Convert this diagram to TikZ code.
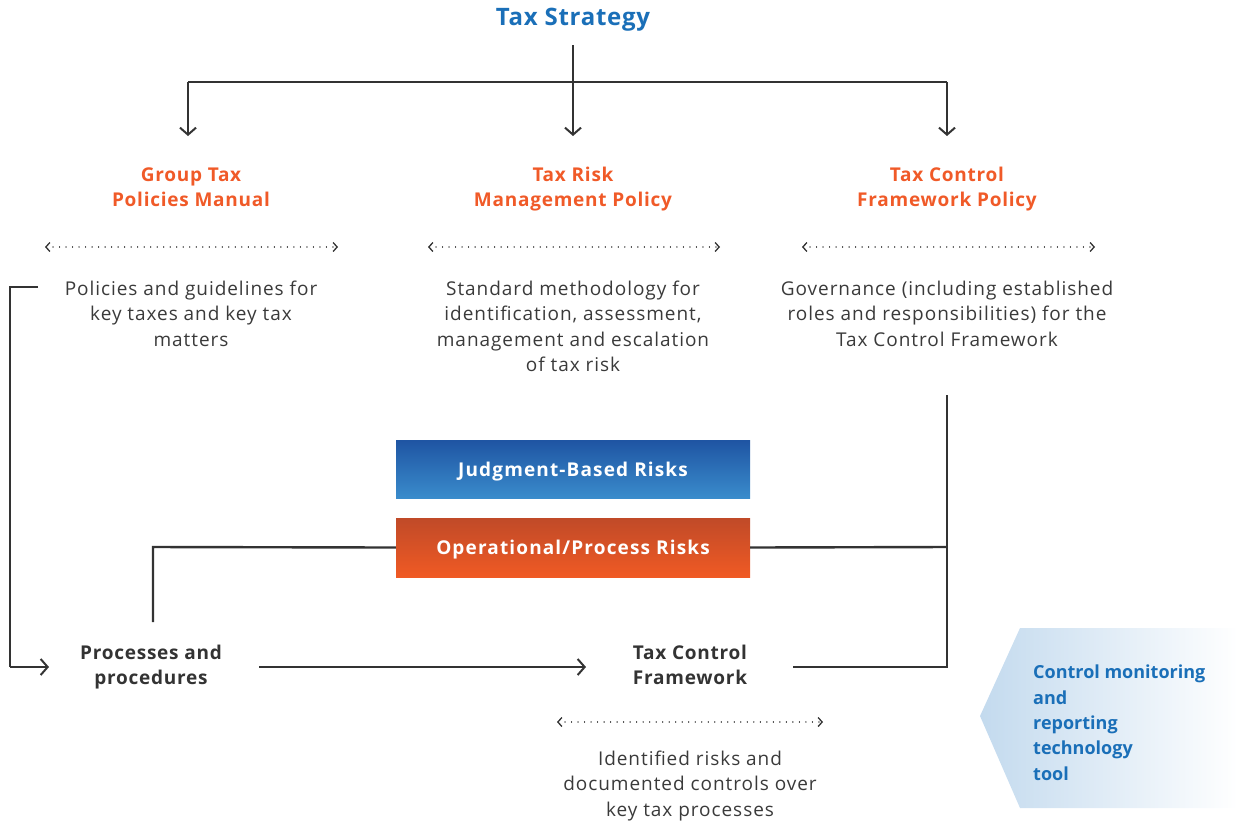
\documentclass[tikz,border=0pt]{standalone}
\usepackage{fontspec}
\setmainfont{Open Sans}
\usetikzlibrary{arrows.meta}
\definecolor{tblue}{HTML}{1A6FB8}
\definecolor{torange}{HTML}{F05A28}
\definecolor{tgray}{HTML}{3A3A3A}
\definecolor{ldark}{HTML}{333333}
\definecolor{jbtop}{HTML}{1F55A3}
\definecolor{jbbot}{HTML}{3A8CCC}
\definecolor{optop}{HTML}{C04A28}
\definecolor{opbot}{HTML}{F05A24}
\definecolor{tooll}{HTML}{C3DAEE}
\begin{document}
\begin{tikzpicture}[x=1pt,y=-1pt,
  conn/.style={draw=ldark,line width=2.4pt},
  arr/.style={conn,-{Straight Barb[length=7pt,width=16pt,line width=2pt]}},
  dots/.style={draw=ldark,line width=1.3pt,dash pattern=on 0.01pt off 6.5pt,line cap=round,
     {Straight Barb[length=4pt,width=9pt,line width=1.3pt]}-{Straight Barb[length=4pt,width=9pt,line width=1.3pt]}},
  head/.style={text=torange,font=\fontsize{19}{25}\selectfont\bfseries\addfontfeature{LetterSpace=4},align=center,anchor=base},
  body/.style={text=tgray,font=\fontsize{19}{25.5}\selectfont\addfontfeature{LetterSpace=5},align=center,anchor=base},
  dark/.style={text=ldark,font=\fontsize{19}{25}\selectfont\bfseries\addfontfeature{LetterSpace=4},align=center,anchor=base},
  risk/.style={minimum width=354pt,inner sep=0pt,text height=13.5pt,text depth=0pt,text=white,
     font=\fontsize{19}{22}\selectfont\bfseries\addfontfeature{LetterSpace=6}},
]
\useasboundingbox (0,0) rectangle (1238,823);
% title
\node[text=tblue,font=\fontsize{24}{28}\selectfont\bfseries\addfontfeature{LetterSpace=3},anchor=base] (ts) at (573,25) {Tax Strategy};
\coordinate (tsb) at (573,45);
\coordinate (hl) at (188,82);
\coordinate (hr) at (947,82);
\coordinate (hm) at (573,82);
\coordinate (a1) at (188,136);
\coordinate (a2) at (573,136);
\coordinate (a3) at (947,136);
\draw[conn] (hl) -- (hr);
\draw[arr] (tsb) -- (a2);
\draw[arr] (hl) -- (a1);
\draw[arr] (hr) -- (a3);
% headings (base = last line)
\node[head] (h1) at (191,206) {Group Tax\\Policies Manual};
\node[head] (h2) at (573,206) {Tax Risk\\Management Policy};
\node[head] (h3) at (947,206) {Tax Control\\Framework Policy};
% dotted arrows
\coordinate (d1l) at (45,247); \coordinate (d1r) at (338,247);
\coordinate (d2l) at (428,247); \coordinate (d2r) at (720,247);
\coordinate (d3l) at (802,247); \coordinate (d3r) at (1095,247);
\coordinate (d4l) at (557,722); \coordinate (d4r) at (823,722);
\draw[dots] (d1l) -- (d1r);
\draw[dots] (d2l) -- (d2r);
\draw[dots] (d3l) -- (d3r);
\draw[dots] (d4l) -- (d4r);
% body texts
\node[body] (b1) at (191,346) {Policies and guidelines for\\key taxes and key tax\\matters};
\node[body] (b2) at (573,371.5) {Standard methodology for\\identification, assessment,\\management and escalation\\of tax risk};
\node[body] (b3) at (947,346) {Governance (including established\\roles and responsibilities) for the\\Tax Control Framework};
\node[body] (b4) at (690,816) {Identified risks and\\documented controls over\\key tax processes};
% risk boxes
\node[risk,minimum height=58pt,top color=jbtop,bottom color=jbbot] (jb) at (573,469.5) {Judgment-Based Risks};
\node[risk,minimum height=59pt,top color=optop,bottom color=opbot] (op) at (573,547.5) {Operational/Process Risks};
% bottom nodes
\node[dark] (pp) at (151,684) {Processes and\\procedures};
\node[dark] (tcf) at (690,684) {Tax Control\\Framework};
% connectors
\coordinate (lb1) at (38,287);
\coordinate (lb2) at (10,287);
\coordinate (lb3) at (10,667);
\coordinate (lb4) at (49,667);
\draw[conn] (lb1) -- (lb2) -- (lb3);
\draw[arr] (lb3) -- (lb4);
\coordinate (rb1) at (947,395);
\coordinate (rb2) at (947,667);
\coordinate (rb3) at (793,667);
\coordinate (rm) at (947,547);
\draw[conn] (rb1) -- (rb2) -- (rb3);
\draw[conn] (op.east) -- (rm);
\coordinate (lm) at (153,547);
\coordinate (lm2) at (153,622);
\draw[conn] (op.west) -- (lm) -- (lm2);
\coordinate (pa) at (259,667);
\coordinate (pb) at (586,667);
\draw[arr] (pa) -- (pb);
% tool pentagon
\shade[left color=tooll,right color=white] (980,716) -- (1020,628) -- (1238,628) -- (1238,808) -- (1020,808) -- cycle;
\node[anchor=base west,text=tblue,font=\fontsize{18}{25.3}\selectfont\bfseries,align=left,inner sep=0pt] (tool) at (1033,780)
 {Control monitoring\\and\\reporting\\technology\\tool};
\end{tikzpicture}
\end{document}
